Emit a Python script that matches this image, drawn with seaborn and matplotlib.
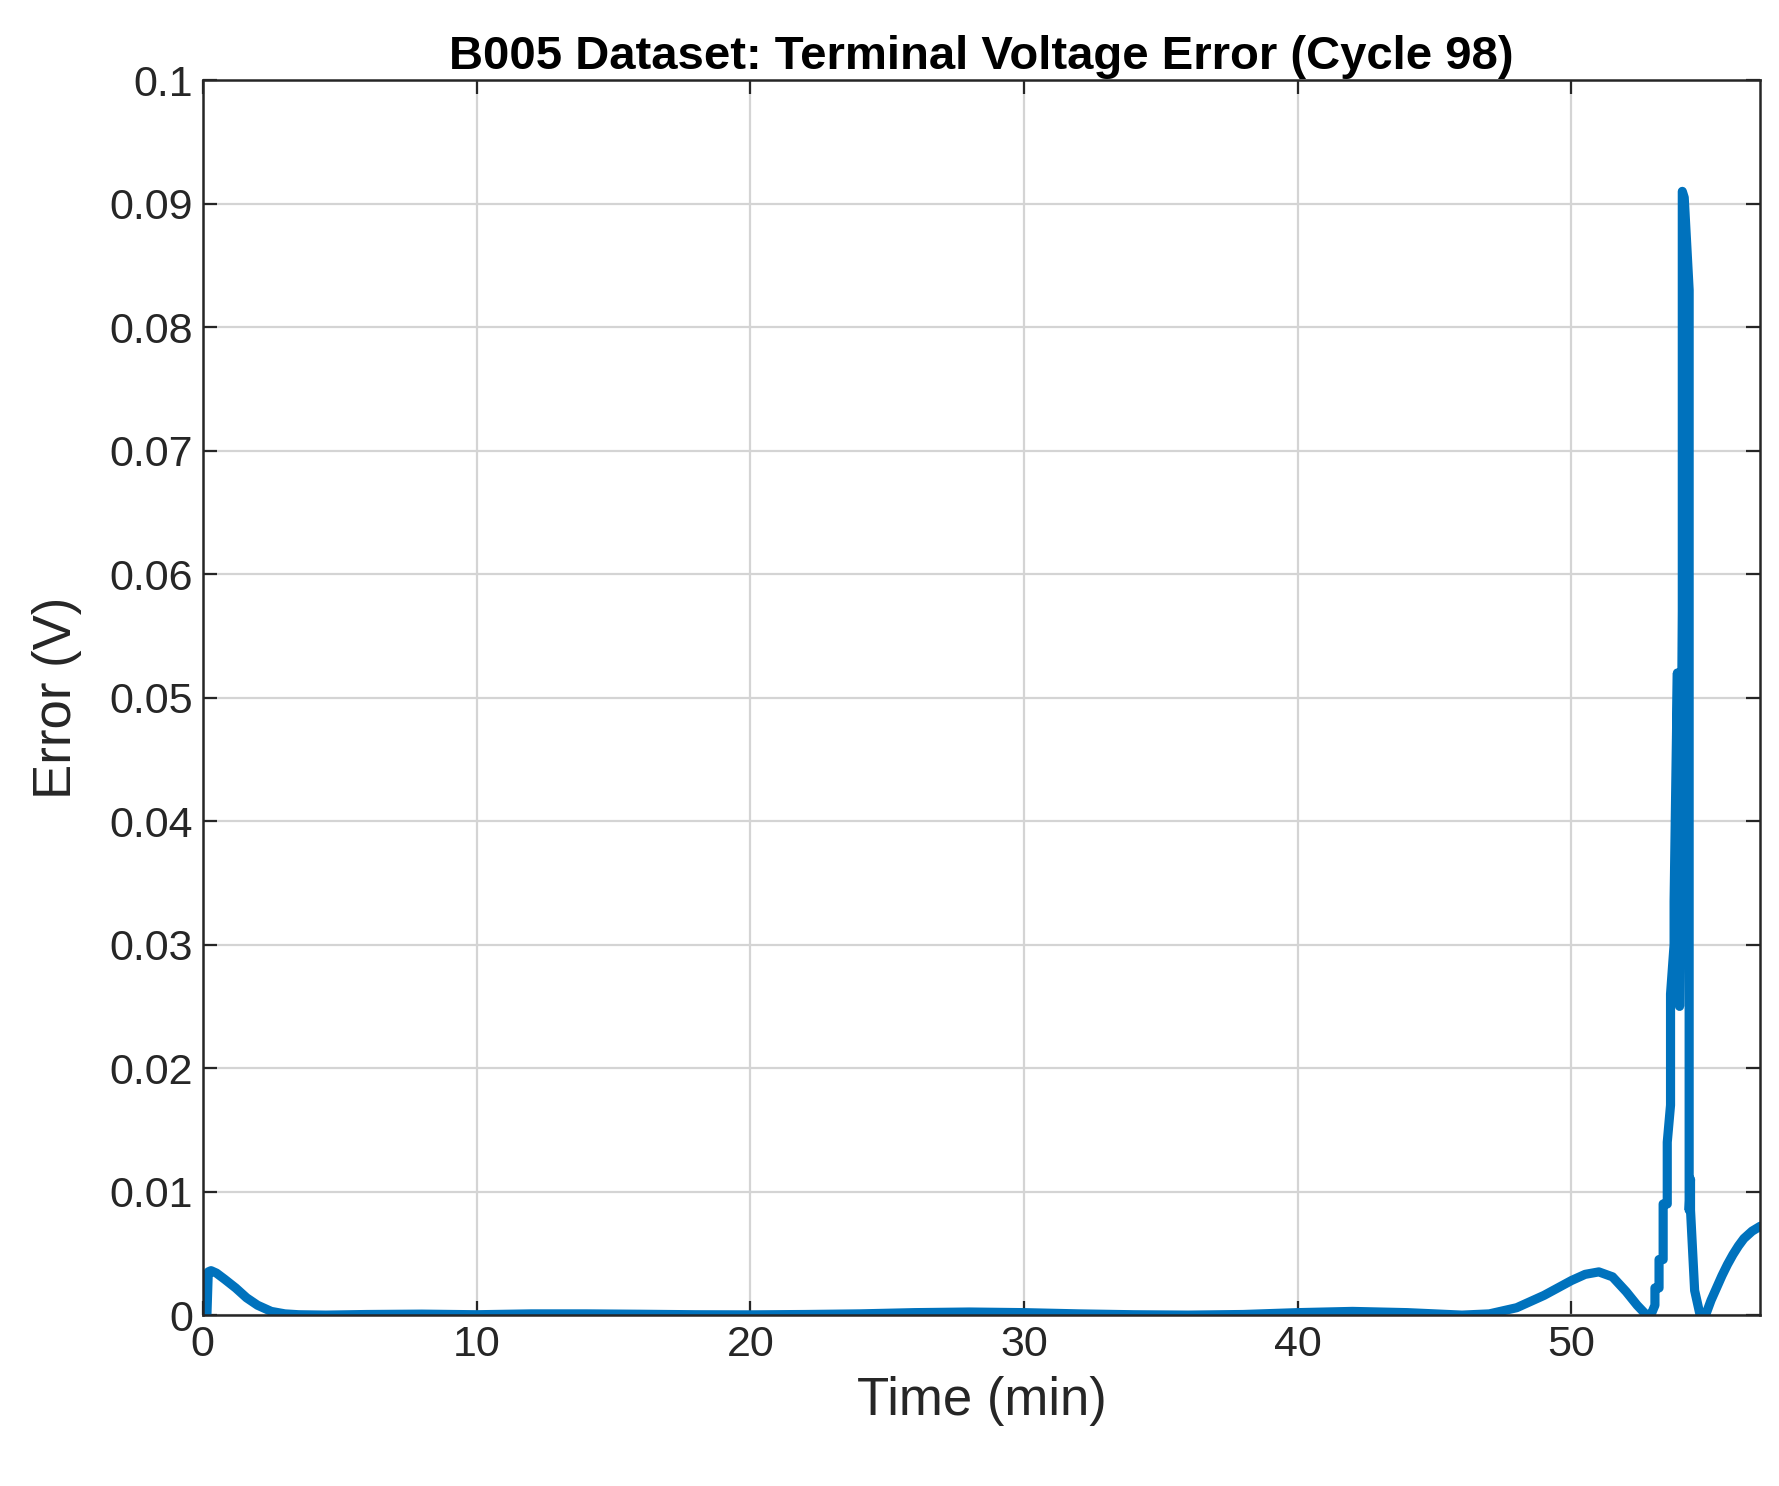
import numpy as np
import pandas as pd
import matplotlib
matplotlib.use("Agg")
import matplotlib.pyplot as plt
import seaborn as sns

# early transient
t_start = [0.0, 0.15, 0.2, 0.3, 0.5, 0.8, 1.2, 1.6, 2.0, 2.5, 3.0, 3.5]
e_start = [0.0, 0.0, 0.0035, 0.0036, 0.0034, 0.0029, 0.0022, 0.0014, 0.0008, 0.0003, 0.0001, 0.00003]
# long flat middle
t_mid = [4.5, 6.0, 8.0, 10.0, 12.0, 14.0, 16.0, 18.0, 20.0, 22.0, 24.0, 26.0, 28.0, 30.0, 32.0, 34.0, 36.0, 38.0, 40.0, 42.0, 44.0, 46.0]
e_mid = [0.0, 0.00005, 0.00008, 0.00003, 0.0001, 0.0001, 0.00007, 0.00003, 0.00002, 0.00005, 0.0001, 0.0002, 0.00025, 0.0002, 0.0001, 0.00003, 0.0, 0.00005, 0.0002, 0.0003, 0.0002, 0.0]
# late bump
t_bump = [47.0, 48.0, 49.0, 50.0, 50.5, 51.0, 51.5, 52.0, 52.4, 52.7, 52.9]
e_bump = [0.0001, 0.0006, 0.0016, 0.0028, 0.0033, 0.0035, 0.0031, 0.0019, 0.0008, 0.0001, 0.0]
# spike
t_spike = [53.05, 53.05, 53.2, 53.2, 53.35, 53.35, 53.5, 53.5, 53.62, 53.62, 53.75, 53.75, 53.87, 53.87, 53.95, 53.95, 54.05, 54.05, 54.12, 54.3, 54.3, 54.35, 54.35, 54.5, 54.5]
e_spike = [0.0008, 0.0022, 0.0022, 0.0045, 0.0045, 0.009, 0.009, 0.014, 0.017, 0.026, 0.030, 0.0335, 0.052, 0.034, 0.052, 0.025, 0.057, 0.091, 0.0905, 0.083, 0.0085, 0.011, 0.0085, 0.002, 0.002]
# recovery
t_end = [54.7, 54.9, 55.1, 55.3, 55.5, 55.7, 55.9, 56.1, 56.3, 56.6, 56.9]
e_end = [0.0, 0.0, 0.0012, 0.0022, 0.0032, 0.0041, 0.0049, 0.0056, 0.0062, 0.0068, 0.0072]

time_min = t_start + t_mid + t_bump + t_spike + t_end
error_v = e_start + e_mid + e_bump + e_spike + e_end
df = pd.DataFrame({"t": time_min, "e": error_v})

sns.set_theme(style="white")
plt.rcParams['font.family'] = ['Liberation Sans', 'DejaVu Sans']
fig = plt.figure(figsize=(1779/200, 1486/200), dpi=200)
ax = fig.add_axes([0.114, 0.115, 0.8755, 0.831])
sns.lineplot(data=df, x="t", y="e", ax=ax, color="#0072BD", linewidth=3.3, sort=False, estimator=None)
ax.set_xlim(0, 56.9)
ax.set_ylim(0, 0.1)
ax.set_xticks([0, 10, 20, 30, 40, 50])
yt = [0, 0.01, 0.02, 0.03, 0.04, 0.05, 0.06, 0.07, 0.08, 0.09, 0.1]
ax.set_yticks(yt)
ax.set_yticklabels(["0", "0.01", "0.02", "0.03", "0.04", "0.05", "0.06", "0.07", "0.08", "0.09", "0.1"])
ax.grid(True, color="#d4d4d4", linewidth=0.8)
for s in ax.spines.values():
    s.set_color("#262626"); s.set_linewidth(0.9)
ax.tick_params(axis="both", labelsize=15.5, colors="#262626", direction="in", length=5, width=0.8,
               top=True, right=True, bottom=True, left=True)
ax.set_xlabel("Time (min)", fontsize=19, color="#262626")
ax.set_ylabel("Error (V)", fontsize=19, color="#262626", labelpad=10)
ax.set_title("B005 Dataset: Terminal Voltage Error (Cycle 98)", fontsize=17, fontweight="bold", color="black", pad=4)
fig.savefig("out.png", dpi=200)
